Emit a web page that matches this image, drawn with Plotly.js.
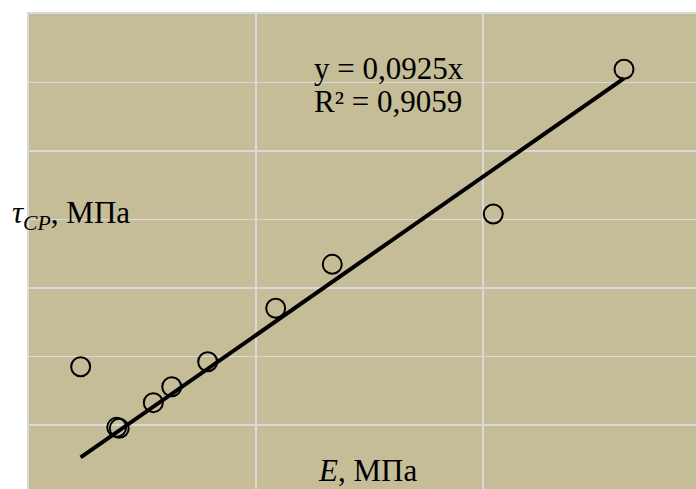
<!DOCTYPE html>
<html>
<head>
<meta charset="utf-8">
<script src="https://cdn.plot.ly/plotly-3.0.1.min.js"></script>
<style>html,body{margin:0;padding:0;background:#fff;}#chart{width:696px;height:489px;}</style>
</head>
<body>
<div id="chart"></div>
<script>
// Data (E in MPa, shear strength tau in MPa)
var E_values   = [56.9, 96.6, 99.4, 136.9, 157.2, 196.8, 271.7, 334.0, 511.3, 655.3];
var tau_values = [18.5, 9.66, 9.52, 13.26, 15.59, 19.24, 27.04, 33.46, 40.80, 61.93];
// Trendline (linear, through origin) as stated on the chart
var trendSlope = 0.0925;
var equationText = "y = 0,0925x";
var r2Text = "R² = 0,9059";
var xTitleText = "<i>E</i>, МПа";
var yTitleText = "<i>τ</i><sub><i>CP</i></sub>, МПа";

var xMin = Math.min.apply(null, E_values);
var xMax = Math.max.apply(null, E_values);
var trendX = [xMin, xMax];
var trendY = trendX.map(function (v) { return trendSlope * v; });

var font = "Liberation Serif, Times New Roman, serif";
var gridColor = "#D9D9D9";

var traces = [
  {
    x: E_values, y: tau_values, type: "scatter", mode: "markers",
    marker: {symbol: "circle-open", size: 19, color: "#000", line: {width: 2, color: "#000"}},
    hoverinfo: "skip", cliponaxis: false
  },
  {
    x: trendX, y: trendY, type: "scatter", mode: "lines",
    line: {color: "#000", width: 4},
    hoverinfo: "skip"
  }
];

var layout = {
  width: 696, height: 489,
  margin: {l: 29, r: 0, t: 14, b: 0, pad: 0},
  paper_bgcolor: "#ffffff",
  plot_bgcolor: "#C4BD97",
  showlegend: false,
  xaxis: {
    range: [0, 734.6], dtick: 250, tick0: 0,
    showgrid: true, gridcolor: gridColor, gridwidth: 1.5,
    zeroline: false, showticklabels: false, ticks: "",
    side: "top", showline: true, linecolor: gridColor, linewidth: 2
  },
  yaxis: {
    range: [0.66, 70], dtick: 10, tick0: 0,
    showgrid: true, gridcolor: gridColor, gridwidth: 1.5,
    zeroline: false, showticklabels: false, ticks: "",
    showline: true, linecolor: gridColor, linewidth: 2
  },
  annotations: [
    {
      xref: "paper", yref: "paper", x: 0.424, y: 0.886,
      xanchor: "left", yanchor: "middle", align: "left",
      text: equationText, showarrow: false,
      font: {family: font, size: 31, color: "#000"}
    },
    {
      xref: "paper", yref: "paper", x: 0.424, y: 0.816,
      xanchor: "left", yanchor: "middle", align: "left",
      text: r2Text, showarrow: false,
      font: {family: font, size: 31, color: "#000"}
    },
    {
      xref: "paper", yref: "paper", x: 0.508, y: 0.04,
      xanchor: "center", yanchor: "middle",
      text: xTitleText, showarrow: false,
      font: {family: font, size: 31, color: "#000"}
    },
    {
      xref: "paper", yref: "paper", x: -0.0285, y: 0.577,
      xanchor: "left", yanchor: "middle",
      text: yTitleText, showarrow: false,
      font: {family: font, size: 31, color: "#000"}
    }
  ]
};

Plotly.newPlot("chart", traces, layout, {displayModeBar: false, staticPlot: true});
</script>
</body>
</html>
